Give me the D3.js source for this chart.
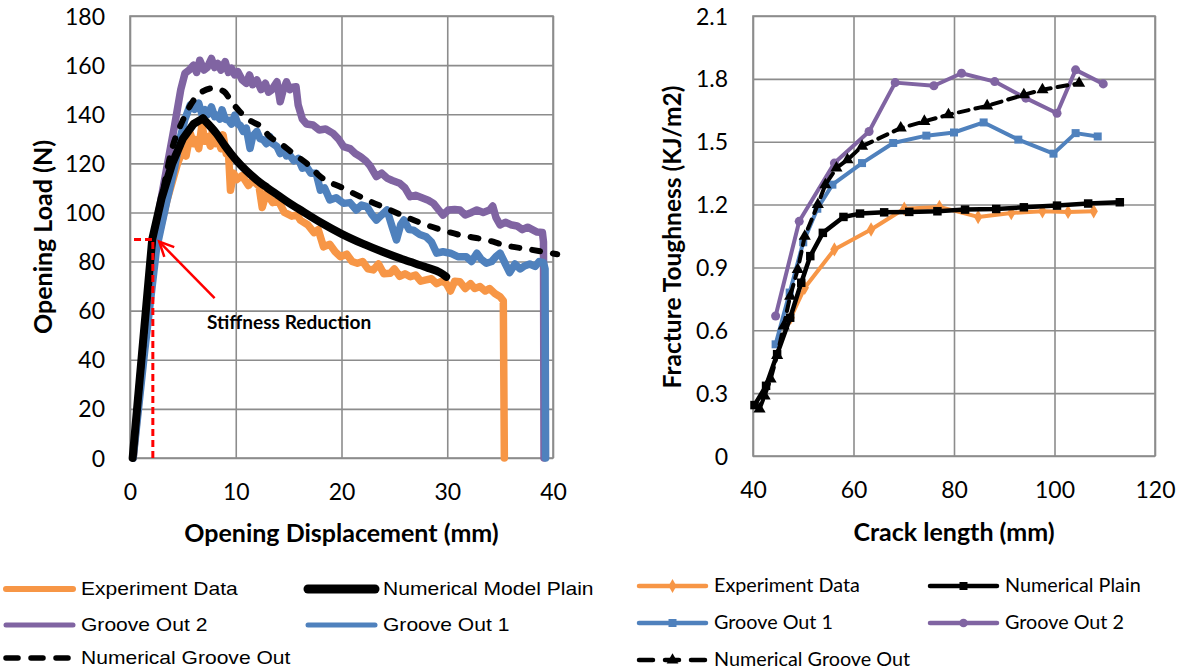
<!DOCTYPE html>
<html><head><meta charset="utf-8">
<script src="https://cdn.jsdelivr.net/npm/d3@7/dist/d3.min.js"></script>
<style>body{margin:0;background:#fff}svg{display:block}</style>
</head><body><svg id="c" width="1178" height="671"></svg>
<script>
// ---------- DATA: left chart (Opening Load vs Opening Displacement) ----------
const leftXTicks = [0,10,20,30,40];
const leftYTicks = [0,20,40,60,80,100,120,140,160,180];
const expData = [[0.3,0],[1.3,44],[2.4,85],[3.5,105],[4.5,120],[5.0,125.4],[5.3,123],[5.7,132.2],[6.0,128],[6.2,129.6],[6.5,126],[6.8,135.6],[7.1,129],[7.3,130.9],[7.6,127],[7.8,133.6],[8.1,128],[8.3,129.6],[8.6,126],[8.8,131.6],[9.1,124],[9.3,125.4],[9.5,109],[9.8,116],[10.1,113.4],[10.6,115],[11.2,111],[11.6,113],[12.2,110.7],[12.5,102],[12.9,108],[13.5,104],[14.0,105],[14.6,100],[15.3,98.5],[15.8,99],[16.1,96.9],[16.8,95],[17.4,91.8],[17.8,93],[18.3,86],[18.9,87],[19.4,84],[19.9,82],[20.5,83],[21.0,80],[21.5,79.3],[22.0,80],[22.5,77],[23.0,76.6],[23.5,79],[24.0,75],[24.6,75.2],[25.0,77],[25.5,74],[26.0,75],[26.5,73.8],[27.0,74.5],[27.5,72],[28.0,72.5],[28.5,73],[29.0,71],[29.5,72],[29.9,71.1],[30.3,68],[30.7,72],[31.2,71.8],[31.7,69],[32.2,71],[32.6,69],[33.1,69.8],[33.6,68],[34.0,69],[34.5,67],[35.0,65.7],[35.3,64],[35.4,0]];
const numPlain = [[0.25,0],[2.1,89],[3.0,106],[4.0,120],[5.0,130],[6.0,136],[6.9,138.3],[7.5,135.5],[8.2,132],[9.0,127],[10.0,121.5],[11.0,117],[12.0,113.2],[13.0,110],[14.0,107],[15.0,104],[16.0,101.3],[18.0,96],[20.0,91.3],[22.0,87.3],[24.0,83.8],[26.0,80.6],[28.0,77.7],[29.3,75.6],[29.9,73.8]];
const grooveOut1 = [[0.3,0],[1.4,44],[2.5,85],[3.5,105],[4.2,118],[4.7,129.5],[5.2,138],[5.7,143.8],[6.1,142],[6.5,144.5],[6.8,140],[7.1,141.8],[7.4,140],[7.7,143],[8.0,139],[8.2,139.6],[8.5,138],[8.7,141.8],[9.0,138],[9.3,137.6],[9.6,136],[9.9,139.6],[10.2,136],[10.4,135.6],[10.7,133],[11.0,134.3],[11.35,126.1],[11.6,131],[12.0,133],[12.3,130],[12.6,129.6],[12.9,128],[13.2,131],[13.5,128],[13.9,126.8],[14.2,124],[14.5,126.1],[14.8,123],[15.1,123.4],[15.5,121],[15.9,122],[16.3,118],[16.7,118.6],[17.1,116],[17.6,116],[18.0,109.1],[18.4,110],[18.9,105.1],[19.5,106],[20.2,103.7],[20.8,104],[21.4,101],[21.9,103],[22.4,102.4],[22.9,99],[23.3,96.9],[23.8,99],[24.3,101],[24.8,94],[25.2,88.8],[25.6,95],[25.9,96.9],[26.4,93],[26.8,92.8],[27.4,91],[28.0,90.1],[28.5,88],[29.0,83.4],[29.6,84],[30.3,83.4],[31.0,82],[31.8,82],[32.3,80],[32.8,83.4],[33.2,81],[33.7,79.3],[34.2,80],[34.6,82],[35.0,83.4],[35.5,79],[35.9,75.5],[36.4,79],[36.9,77],[37.3,78.2],[37.8,79],[38.3,78],[38.7,80],[39.1,79.6],[39.25,77],[39.3,0]];
const grooveOut2 = [[0.3,0],[1.2,44],[2.1,85],[3.15,110.5],[4.2,135],[4.8,150],[5.2,156.7],[5.6,158],[6.0,160],[6.3,157],[6.6,162],[7.0,158],[7.3,159],[7.7,162.7],[8.0,159],[8.3,160.7],[8.6,158],[9.0,161.4],[9.3,157],[9.6,158.7],[9.9,156],[10.2,157.3],[10.6,154],[11.0,152.6],[11.3,156],[11.6,152],[12.0,153.9],[12.4,150],[12.8,152.6],[13.1,149],[13.4,149.9],[13.9,153.2],[14.2,145.1],[14.5,150],[14.8,153.2],[15.1,150],[15.4,151],[15.7,151.2],[15.9,143.8],[16.3,138],[16.7,136],[17.3,135.6],[17.9,133.6],[18.5,134],[19.2,132.2],[19.7,130],[20.2,126.8],[20.8,126],[21.3,124],[21.8,122.7],[22.3,121],[22.7,119],[23.3,114.6],[23.8,116],[24.3,114],[24.8,113],[25.5,111.9],[26.0,110],[26.5,106.4],[27.0,107],[27.6,106],[28.2,105],[28.7,103.7],[29.2,101],[29.6,98.9],[30.1,101],[30.7,101.2],[31.2,101],[31.7,99],[32.3,100],[32.8,101],[33.4,100],[34.0,101],[34.3,102.6],[34.6,98],[35.0,94.9],[35.5,96],[36.0,95],[36.6,94.5],[37.1,93],[37.6,94],[38.0,93.1],[38.5,92],[39.0,91.8],[39.1,88],[39.15,0]];
const numGroove = [[0.25,0],[1.26,46],[2.05,84.7],[2.84,102.3],[3.94,125.4],[5.0,137.6],[5.7,143.6],[6.6,148.5],[7.9,150.6],[8.9,149.2],[9.6,145.1],[10.4,141],[11.3,137.6],[12.4,134.9],[13.2,130.9],[14.2,128.2],[15.4,124.1],[16.7,120],[18.0,114.6],[20.2,109.8],[22.4,105.1],[24.6,101],[26.8,96.9],[29.0,93.5],[31.2,90.8],[33.7,88.8],[35.6,86.5],[37.7,85],[40.4,83]];
// annotation (data coordinates)
const stiffPoint = [2.16, 89];
const stiffHLineStart = 0.38;
const arrowTail = [8.0, 65.1];
const arrowHead = [2.76, 88.1];

// ---------- DATA: right chart (Fracture Toughness vs Crack length) ----------
const rightXTicks = [40,60,80,100,120];
const rightYTicks = [0,0.3,0.6,0.9,1.2,1.5,1.8,2.1];
const rExp = [[47.5,0.66],[50.3,0.803],[56.2,0.986],[63.5,1.081],[70.1,1.18],[77.1,1.189],[84.8,1.141],[91.4,1.16],[97.6,1.168],[102.7,1.165],[107.8,1.168]];
const rPlain = [[40.3,0.243],[42.6,0.335],[44.8,0.486],[47.4,0.66],[49.6,0.827],[51.4,0.954],[53.9,1.065],[58.0,1.141],[61.3,1.157],[66.1,1.163],[71.1,1.165],[76.7,1.168],[82.2,1.176],[88.4,1.179],[93.9,1.187],[100.5,1.195],[106.7,1.205],[113.0,1.211]];
const rGroove1 = [[44.5,0.533],[47.3,0.78],[50.0,1.02],[52.8,1.18],[55.8,1.295],[61.7,1.398],[67.9,1.494],[74.5,1.529],[80.0,1.544],[85.9,1.592],[92.8,1.51],[99.8,1.443],[104.2,1.541],[108.6,1.525]];
const rGroove2 = [[44.5,0.668],[49.2,1.12],[56.2,1.398],[63.1,1.549],[68.3,1.782],[76.0,1.767],[81.5,1.827],[88.1,1.787],[94.3,1.708],[100.5,1.636],[104.2,1.843],[109.7,1.776]];
const rNumGroove = [[41.3,0.224],[42.3,0.287],[43.5,0.367],[44.8,0.48],[46.1,0.62],[47.4,0.763],[48.9,0.89],[50.3,1.049],[52.9,1.2],[54.4,1.295],[56.6,1.374],[58.8,1.414],[61.7,1.478],[69.4,1.565],[74.1,1.597],[78.9,1.629],[86.6,1.671],[93.9,1.724],[97.6,1.748],[104.9,1.779]];

const leftLegend = ["Experiment Data","Numerical Model Plain","Groove Out 2","Groove Out 1","Numerical Groove Out"];
const rightLegend = ["Experiment Data","Numerical Plain","Groove Out 1","Groove Out 2","Numerical Groove Out"];

// ---------- DRAWING ----------
const C = {orange:"#F79646", purple:"#8064A2", blue:"#4F81BD", black:"#000", grid:"#8C8C8C", red:"#FF0000"};
const TICKFONT = "Lato, 'Open Sans', sans-serif";
const svg = d3.select("#c");

function stext(x,y,t,o){
  const el = svg.append("text").attr("transform",`translate(${x},${y})${o.rot?" rotate(-90)":""} scale(${o.sx||1},1)`)
    .attr("dy","0.35em").attr("text-anchor",o.anchor||"start").text(t)
    .style("font-family",o.font||TICKFONT).style("font-size",o.size+"px");
  if(o.bold) el.style("font-weight","bold");
  return el;
}

function frame(x, y, xt, yt, yfmt){
  const g = svg.append("g");
  const [x0,x1] = x.range(), [y0,y1] = y.range();
  g.append("g").attr("transform",`translate(0,${y0})`)
    .call(d3.axisBottom(x).tickValues(xt).tickSize(-(y0-y1)).tickPadding(0).tickFormat(d3.format("d")))
    .call(a=>{a.select(".domain").remove();
      a.selectAll("line").attr("stroke",C.grid).attr("stroke-width",1.6);
      a.selectAll("text").attr("y",34).attr("dy","0.35em").attr("fill","#000")
        .style("font-family",TICKFONT).style("font-size","23px");});
  g.append("g").attr("transform",`translate(${x0},0)`)
    .call(d3.axisLeft(y).tickValues(yt).tickSize(-(x1-x0)).tickPadding(25).tickFormat(yfmt))
    .call(a=>{a.select(".domain").remove();
      a.selectAll("line").attr("stroke",C.grid).attr("stroke-width",1.6);
      a.selectAll("text").attr("dy","0.35em").attr("fill","#000")
        .style("font-family",TICKFONT).style("font-size","23px");});
  g.append("rect").attr("x",x0).attr("y",y1).attr("width",x1-x0).attr("height",y0-y1)
    .attr("fill","none").attr("stroke",C.grid).attr("stroke-width",1.6);
}

// Left chart
const xL = d3.scaleLinear([0,40],[130,553]);
const yL = d3.scaleLinear([0,180],[458,16]);
frame(xL,yL,leftXTicks,leftYTicks,d3.format("d"));
const lineL = d3.line().x(d=>xL(d[0])).y(d=>yL(d[1]));
const lineLs = d3.line().x(d=>xL(d[0])).y(d=>yL(d[1])).curve(d3.curveMonotoneX);
const gL = svg.append("g").attr("fill","none").attr("stroke-linejoin","round").attr("stroke-linecap","round");
gL.append("path").attr("d",lineL(grooveOut2)).attr("stroke",C.purple).attr("stroke-width",7.5);
gL.append("path").attr("d",lineL(expData)).attr("stroke",C.orange).attr("stroke-width",7.5);
gL.append("path").attr("d",lineL(grooveOut1)).attr("stroke",C.blue).attr("stroke-width",7.5);
const apex = d3.maxIndex(numPlain,d=>d[1]);
gL.append("path").attr("d",lineL(numPlain.slice(0,apex+1))).attr("stroke",C.black).attr("stroke-width",8);
gL.append("path").attr("d",lineLs(numPlain.slice(apex))).attr("stroke",C.black).attr("stroke-width",8);
gL.append("path").attr("d",lineLs(numGroove)).attr("stroke",C.black).attr("stroke-width",6)
  .attr("stroke-dasharray","8 13").attr("stroke-linecap","round");

// annotation
const ann = svg.append("g").attr("fill","none").attr("stroke",C.red);
ann.append("line").attr("x1",xL(stiffPoint[0])).attr("x2",xL(stiffPoint[0]))
  .attr("y1",yL(0)).attr("y2",yL(stiffPoint[1])).attr("stroke-width",3).attr("stroke-dasharray","7 4");
ann.append("line").attr("x1",xL(stiffHLineStart)).attr("x2",xL(stiffPoint[0]))
  .attr("y1",yL(stiffPoint[1])).attr("y2",yL(stiffPoint[1])).attr("stroke-width",3).attr("stroke-dasharray","7 4");
{
  const hx=xL(arrowHead[0]), hy=yL(arrowHead[1]), tx=xL(arrowTail[0]), ty=yL(arrowTail[1]);
  ann.append("line").attr("x1",tx).attr("y1",ty).attr("x2",hx).attr("y2",hy).attr("stroke-width",2.5);
  const ang=Math.atan2(ty-hy,tx-hx), L=16, s=0.45;
  ann.append("path").attr("stroke-width",2.5)
    .attr("d",`M${hx+L*Math.cos(ang-s)},${hy+L*Math.sin(ang-s)}L${hx},${hy}L${hx+L*Math.cos(ang+s)},${hy+L*Math.sin(ang+s)}`);
}
stext(207,323,"Stiffness Reduction",{size:18,bold:true,sx:1.06});

// left axis titles
stext(341.5,533,"Opening Displacement (mm)",{size:25,bold:true,anchor:"middle"});
stext(43,237,"Opening Load (N)",{size:25,bold:true,anchor:"middle",rot:true});

// Right chart
const xR = d3.scaleLinear([40,120],[753,1155]);
const yR = d3.scaleLinear([0,2.1],[456,16]);
frame(xR,yR,rightXTicks,rightYTicks,d=>d===0?"0":d3.format(".1f")(d));
const lineR = d3.line().x(d=>xR(d[0])).y(d=>yR(d[1]));
const gR = svg.append("g");
function series(data,color,marker,dashed,w){
  const g = gR.append("g");
  g.append("path").attr("d",lineR(data)).attr("fill","none").attr("stroke",color).attr("stroke-width",w||4)
    .attr("stroke-linejoin","round").attr("stroke-dasharray",dashed?"10 7":null).attr("stroke-linecap",dashed?"round":"butt");
  const sym = d3.symbol().type(marker.type).size(marker.size);
  g.selectAll("path.m").data(data).join("path").attr("class","m")
    .attr("transform",d=>`translate(${xR(d[0])},${yR(d[1])})`).attr("d",sym).attr("fill",color);
}
series(rGroove2,C.purple,{type:d3.symbolCircle,size:64});
series(rGroove1,C.blue,{type:d3.symbolSquare,size:64});
series(rExp,C.orange,{type:d3.symbolDiamond,size:60});
series(rNumGroove,C.black,{type:d3.symbolTriangle,size:64},true);
series(rPlain,C.black,{type:d3.symbolSquare,size:72},false,4.5);

stext(954,532,"Crack length (mm)",{size:25,bold:true,anchor:"middle"});
stext(672,237,"Fracture Toughness (KJ/m2)",{size:24.5,bold:true,anchor:"middle",rot:true});

// Left legend
const LL = svg.append("g");
const llPos = [[4,589],[306,589],[4,625],[306,625],[4,658]];
const llStyle = [{c:C.orange,w:6},{c:C.black,w:9},{c:C.purple,w:5},{c:C.blue,w:5},{c:C.black,w:5.5,dash:"12 13"}];
leftLegend.forEach((t,i)=>{
  const [x,y]=llPos[i], s=llStyle[i];
  LL.append("line").attr("x1",x+2).attr("x2",x+69).attr("y1",y).attr("y2",y).attr("stroke",s.c).attr("stroke-width",s.w)
    .attr("stroke-linecap","round").attr("stroke-dasharray",s.dash||null);
  stext(x+77,y,t,{font:"'Liberation Sans', Arial, sans-serif",size:18,sx:1.17});
});
// Right legend
const RL = svg.append("g");
const rlPos = [[637,586],[928,586],[637,623],[928,623],[637,660]];
const rlStyle = [{c:C.orange,m:d3.symbolDiamond,s:55},{c:C.black,m:d3.symbolSquare,s:64},{c:C.blue,m:d3.symbolSquare,s:64},{c:C.purple,m:d3.symbolCircle,s:60},{c:C.black,m:d3.symbolTriangle,s:60,dash:"14 12"}];
rightLegend.forEach((t,i)=>{
  const [x,y]=rlPos[i], s=rlStyle[i];
  RL.append("line").attr("x1",x+2).attr("x2",x+69).attr("y1",y).attr("y2",y).attr("stroke",s.c).attr("stroke-width",4.5)
    .attr("stroke-linecap","round").attr("stroke-dasharray",s.dash||null);
  RL.append("path").attr("transform",`translate(${x+35.5},${y})`).attr("d",d3.symbol().type(s.m).size(s.s)).attr("fill",s.c);
  stext(x+77,y,t,{size:18.5,sx:1.07});
});
</script></body></html>
